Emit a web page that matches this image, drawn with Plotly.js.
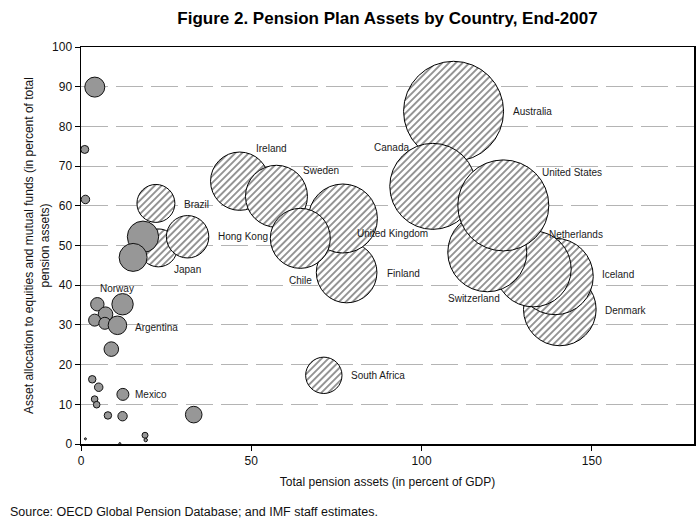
<!DOCTYPE html>
<html>
<head>
<meta charset="utf-8">
<script src="https://cdn.plot.ly/plotly-3.0.1.min.js"></script>
<style>
  body { margin: 0; background: #fff; }
  #chart { width: 699px; height: 520px; }
</style>
</head>
<body>
<div id="chart"></div>
<script>
// Labelled countries (hatched bubbles), listed back to front
const countries = ["South Africa", "Japan", "Brazil", "Hong Kong", "Ireland", "Sweden", "Finland",
  "United Kingdom", "Chile", "Denmark", "Iceland", "Netherlands", "Switzerland", "Australia", "Canada", "United States"];
const assetsGDP = [71.3, 22.7, 22.0, 31.3, 46.6, 57.4, 78.0, 76.9, 64.4, 140.6, 139.2, 132.8, 119.3, 109.4, 103.3, 124.0];
const equityShare = [17.3, 49.4, 60.6, 52.2, 66.2, 62.4, 43.2, 56.8, 51.8, 33.9, 42.2, 44.1, 48.3, 83.8, 64.9, 60.1];
const bubbleSize = [33, 36, 36, 45, 85, 96, 92, 119, 90, 132, 146, 144, 156, 250, 185, 207];

// Other countries (grey bubbles), only a few carry a label
const otherNames = ["", "", "", "", "", "Norway", "", "", "", "", "Argentina", "", "", "", "Mexico",
  "", "", "", "", "", "", "", "", ""];
const otherAssets = [4.05, 1.1, 1.3, 18.2, 15.3, 4.8, 12.2, 7.2, 4.0, 7.0, 10.7, 8.9, 3.3, 5.2, 12.3,
  4.0, 4.6, 7.9, 12.2, 33.1, 18.8, 19.0, 1.3, 11.4];
const otherEquity = [89.9, 74.2, 61.6, 52.2, 47.0, 35.2, 35.2, 32.7, 31.2, 30.4, 29.9, 23.9, 16.3, 14.3, 12.5,
  11.3, 9.9, 7.2, 7.0, 7.4, 2.2, 1.0, 1.3, 0.1];
const otherSize = [10, 1.6, 1.8, 24.6, 19.6, 4.5, 11.4, 5.3, 3.6, 3.6, 8.6, 5.3, 1.4, 1.8, 3.6,
  1.1, 1.1, 1.4, 2.2, 6.9, 0.9, 0.3, 0.1, 0.1];

// label placement (pixel offsets from bubble centre)
const labelShift = {
  "South Africa": [25, 0], "Japan": [14, -22], "Brazil": [26, -1], "Hong Kong": [28, 0],
  "Ireland": [14, 33], "Sweden": [25, 26], "Finland": [38, -1], "United Kingdom": [12, -15],
  "Chile": [-13, -42], "Denmark": [43, -1], "Iceland": [45, 2], "Netherlands": [14, 34],
  "Switzerland": [-41, -46], "Australia": [57, 0], "Canada": [-61, 39], "United States": [37, 33],
  "Norway": [1, 16], "Argentina": [16, -2], "Mexico": [10, 0]
};

const font = "Liberation Sans, Arial, sans-serif";

const traces = [
  {
    x: assetsGDP, y: equityShare, text: countries, type: "scatter", mode: "markers",
    marker: { size: bubbleSize, sizemode: "area", sizeref: 0.05, color: "#ffffff",
      line: { color: "#000", width: 1 }, opacity: 1 },
    hoverinfo: "text"
  },
  {
    x: otherAssets, y: otherEquity, text: otherNames, type: "scatter", mode: "markers",
    marker: { size: otherSize, sizemode: "area", sizeref: 0.05, color: "#979797",
      line: { color: "#111", width: 1 }, opacity: 1 },
    hoverinfo: "text"
  }
];

const annotations = [];
countries.forEach((c, i) => {
  annotations.push({ x: assetsGDP[i], y: equityShare[i], text: c, showarrow: false,
    xanchor: "left", yanchor: "middle", xshift: labelShift[c][0], yshift: labelShift[c][1],
    font: { family: font, size: 10, color: "#1a1a1a" } });
});
otherNames.forEach((c, i) => {
  if (!c) return;
  annotations.push({ x: otherAssets[i], y: otherEquity[i], text: c, showarrow: false,
    xanchor: "left", yanchor: "middle", xshift: labelShift[c][0], yshift: labelShift[c][1],
    font: { family: font, size: 10, color: "#1a1a1a" } });
});
annotations.push({
  xref: "paper", yref: "paper", x: -0.119, y: -0.171, xanchor: "left", yanchor: "middle",
  text: "Source: OECD Global Pension Database; and IMF staff estimates.", showarrow: false,
  font: { family: font, size: 12.5, color: "#111" }
});

const layout = {
  width: 699, height: 520,
  margin: { l: 81, r: 5, t: 47, b: 76 },
  paper_bgcolor: "#fff", plot_bgcolor: "#fff",
  showlegend: false,
  font: { family: font, color: "#111" },
  title: { text: "<b>Figure 2. Pension Plan Assets by Country, End-2007</b>",
    x: 0.5, xref: "paper", y: 0.965, yanchor: "middle",
    font: { family: font, size: 17, color: "#000" } },
  xaxis: {
    range: [0, 180], tickvals: [0, 50, 100, 150], ticks: "outside", ticklen: 5, tickcolor: "#000",
    showline: true, mirror: true, linecolor: "#000", linewidth: 1.5,
    showgrid: false, zeroline: false, tickfont: { size: 12 },
    title: { text: "Total pension assets (in percent of GDP)", font: { size: 12 }, standoff: 10 }
  },
  yaxis: {
    range: [0, 100], dtick: 10, ticks: "outside", ticklen: 5, tickcolor: "#000",
    showline: true, mirror: true, linecolor: "#000", linewidth: 1.5,
    showgrid: true, gridcolor: "#b4b4b4", gridwidth: 1, griddash: "27px,8px",
    zeroline: false, tickfont: { size: 12 },
    title: { text: "Asset allocation to equities and mutual funds (in percent of total<br>pension assets)",
      font: { size: 12 }, standoff: 0 }
  },
  annotations: annotations
};

Plotly.newPlot("chart", traces, layout, { staticPlot: true }).then(gd => {
  // hatched fill for the labelled bubbles
  const ns = "http://www.w3.org/2000/svg";
  const svg = gd.querySelector("svg.main-svg");
  let defs = svg.querySelector("defs");
  const pat = document.createElementNS(ns, "pattern");
  pat.setAttribute("id", "hatch");
  pat.setAttribute("patternUnits", "userSpaceOnUse");
  pat.setAttribute("width", "4.8");
  pat.setAttribute("height", "4.8");
  pat.setAttribute("patternTransform", "rotate(45)");
  const bg = document.createElementNS(ns, "rect");
  bg.setAttribute("width", "4.8"); bg.setAttribute("height", "4.8"); bg.setAttribute("fill", "#fff");
  const ln = document.createElementNS(ns, "rect");
  ln.setAttribute("x", "0"); ln.setAttribute("y", "0");
  ln.setAttribute("width", "1.9"); ln.setAttribute("height", "4.8"); ln.setAttribute("fill", "#939393");
  pat.appendChild(bg); pat.appendChild(ln);
  defs.appendChild(pat);
  const tr = gd.querySelectorAll(".scatterlayer .trace")[0];
  tr.querySelectorAll("path.point").forEach(p => { p.style.fill = "url(#hatch)"; });
});
</script>
</body>
</html>
